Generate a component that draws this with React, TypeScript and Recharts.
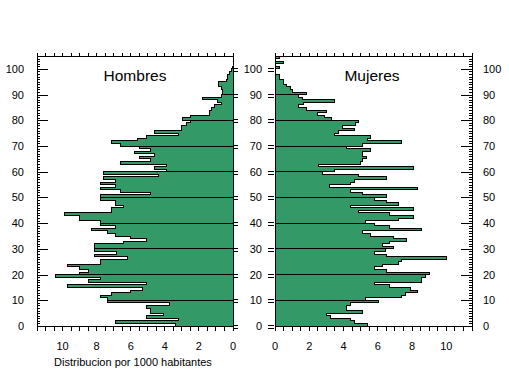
import React from 'react';
import { AreaChart, Area, XAxis, YAxis, ReferenceLine } from 'recharts';

// Distribution per 1000 inhabitants, by single year of age (0..104)
const hombres = [
  3.4, 6.9, 3.2, 5.05, 4.1, 4.85, 4.85, 5.05, 3.7, 7.35,
  7.35, 7.8, 7.1, 6.0, 5.3, 9.7, 5.05, 8.5, 7.8, 10.4,
  9.0, 8.5, 9.0, 9.7, 7.8, 7.8, 6.2, 8.1, 6.85, 8.1,
  8.1, 8.1, 6.4, 5.05, 6.0, 6.9, 7.35, 8.3, 6.9, 7.8,
  7.8, 9.0, 9.0, 9.9, 7.1, 7.1, 6.4, 6.9, 6.9, 7.8,
  7.8, 4.85, 6.6, 7.8, 6.9, 7.8, 6.9, 7.6, 4.4, 7.6,
  3.9, 4.6, 3.9, 6.6, 4.85, 5.5, 4.6, 5.8, 4.85, 5.5,
  6.6, 7.1, 5.6, 5.1, 3.2, 4.6, 3.0, 3.0, 2.7, 2.5,
  2.96, 2.5, 1.35, 1.35, 1.25, 1.1, 0.66, 0.9, 1.8, 0.66,
  0.6, 0.6, 0.66, 0.86, 0.86, 0.4, 0.3, 0.3, 0.2, 0.1,
  0.05, 0, 0, 0, 0,
];

const mujeres = [
  5.4, 4.65, 4.4, 3.25, 3.0, 5.1, 4.2, 4.2, 4.4, 6.05,
  5.3, 7.4, 7.6, 8.3, 7.9, 6.7, 5.8, 8.55, 8.55, 8.8,
  9.0, 6.5, 5.8, 6.3, 7.2, 7.4, 10.0, 6.5, 5.8, 6.45,
  6.9, 6.3, 6.7, 7.65, 6.9, 5.6, 5.1, 8.55, 6.7, 5.8,
  5.3, 7.2, 8.1, 6.7, 4.9, 8.1, 4.4, 7.2, 6.5, 5.8,
  6.5, 5.1, 4.4, 8.3, 3.2, 4.4, 4.65, 6.5, 4.9, 2.8,
  3.5, 8.1, 2.55, 5.0, 5.1, 5.35, 5.1, 5.1, 5.55, 4.2,
  5.1, 7.4, 5.4, 5.55, 3.5, 3.7, 4.65, 3.95, 4.7, 4.9,
  3.3, 2.9, 2.5, 3.0, 1.85, 1.37, 1.65, 3.5, 1.6, 1.37,
  1.85, 1.0, 0.9, 0.7, 0.5, 0.5, 0.25, 0.25, 0, 0,
  0.25, 0, 0.5, 0, 0.25,
];

const xTicks = [0, 0.5, 1, 1.5, 2, 2.5, 3, 3.5, 4, 4.5, 5, 5.5, 6, 6.5, 7, 7.5, 8, 8.5, 9, 9.5, 10, 10.5, 11, 11.5];
const xLabels = [0, 2, 4, 6, 8, 10];
const yMajor = [0, 10, 20, 30, 40, 50, 60, 70, 80, 90, 100];
const yAll = hombres.map((_, i) => i);
const decades = [10, 20, 30, 40, 50, 60, 70, 80, 90];

const titles = ['Hombres', 'Mujeres'];
const xTitle = 'Distribucion por 1000 habitantes';

const data = [
  ...yAll.map((age) => ({ age, h: hombres[age], m: mujeres[age] })),
  { age: 105, h: 0, m: 0 },
];

const GREEN = '#339966';
const FONT = '"Liberation Sans", Arial, Helvetica, sans-serif';
const X_DOMAIN: [number, number] = [0, 11.5];
const Y_DOMAIN: [number, number] = [0, 105];

const fmtX = (v: number) => (xLabels.includes(v) ? String(v) : '');
const r = (v: number) => Math.round(v) + 0.5;

const LeftOuterTick = (props: any) => {
  const { x, y, payload } = props;
  const v = payload.value;
  const major = v % 10 === 0;
  const yy = r(y);
  return (
    <g>
      <line x1={x} x2={x + (major ? 11 : 3)} y1={yy} y2={yy} stroke="#000" />
      {major && (
        <text x={x - 13} y={y} dy="0.36em" textAnchor="end" fontSize={11} fontFamily={FONT} fill="#000">
          {v}
        </text>
      )}
    </g>
  );
};

const RightOuterTick = (props: any) => {
  const { x, y, payload } = props;
  const v = payload.value;
  const major = v % 10 === 0;
  const yy = r(y);
  return (
    <g>
      <line x1={x - (major ? 11 : 3)} x2={x} y1={yy} y2={yy} stroke="#000" />
      {major && (
        <text x={x + 11} y={y} dy="0.36em" textAnchor="start" fontSize={11} fontFamily={FONT} fill="#000">
          {v}
        </text>
      )}
    </g>
  );
};

const LeftInnerTick = (props: any) => {
  const { x, y } = props;
  const yy = Math.round(y);
  return (
    <g>
      <line x1={x} x2={x + 5} y1={yy - 1 + 0.5} y2={yy - 1 + 0.5} stroke="#000" />
      <line x1={x} x2={x + 5} y1={yy + 2 + 0.5} y2={yy + 2 + 0.5} stroke="#000" />
    </g>
  );
};

const CenterTick = (props: any) => {
  const { x, y, payload } = props;
  const yy = Math.round(y);
  return (
    <g>
      <line x1={x - 7} x2={x - 1} y1={yy - 1 + 0.5} y2={yy - 1 + 0.5} stroke="#000" />
      <line x1={x - 7} x2={x - 1} y1={yy + 2 + 0.5} y2={yy + 2 + 0.5} stroke="#000" />
      <text x={x - 13} y={y} dy="0.36em" textAnchor="end" fontSize={11} fontFamily={FONT} fill="#000">
        {payload.value}
      </text>
    </g>
  );
};

const tickStyle = { fill: '#000', fontSize: 11, fontFamily: FONT };

function Panel({ side }: { side: 'h' | 'm' }) {
  const isLeft = side === 'h';
  const values = isLeft ? hombres : mujeres;
  return (
    <AreaChart
      width={isLeft ? 240 : 274}
      height={376}
      data={data}
      layout="vertical"
      margin={{ top: 46, right: 0, bottom: 20, left: 0 }}
    >
      <XAxis
        xAxisId="b"
        type="number"
        dataKey={side}
        orientation="bottom"
        domain={X_DOMAIN}
        allowDataOverflow
        reversed={isLeft}
        ticks={xTicks}
        interval={0}
        tickSize={5}
        tickMargin={11}
        height={30}
        tickFormatter={fmtX}
        stroke="#000"
        tick={tickStyle}
      />
      <XAxis
        xAxisId="t"
        type="number"
        dataKey={side}
        orientation="top"
        domain={X_DOMAIN}
        allowDataOverflow
        reversed={isLeft}
        ticks={xTicks}
        interval={0}
        tickSize={3}
        height={10}
        tickFormatter={() => ''}
        stroke="#000"
      />
      <YAxis
        yAxisId="l"
        type="number"
        dataKey="age"
        orientation="left"
        domain={Y_DOMAIN}
        allowDataOverflow
        reversed
        ticks={isLeft ? yAll : yMajor}
        interval={0}
        width={isLeft ? 37 : 40}
        tickSize={0}
        tickMargin={0}
        tickLine={false}
        stroke="#000"
        tick={isLeft ? <LeftOuterTick /> : <CenterTick />}
      />
      <YAxis
        yAxisId="r"
        type="number"
        dataKey="age"
        orientation="right"
        domain={Y_DOMAIN}
        allowDataOverflow
        reversed
        ticks={isLeft ? yMajor : yAll}
        interval={0}
        width={isLeft ? 7 : 37}
        tickSize={0}
        tickMargin={0}
        tickLine={false}
        stroke="#000"
        tick={isLeft ? <LeftInnerTick /> : <RightOuterTick />}
      />
      <Area
        xAxisId="b"
        yAxisId="l"
        dataKey={side}
        type="stepBefore"
        stroke="#000"
        strokeWidth={1}
        fill={GREEN}
        fillOpacity={1}
        dot={false}
        activeDot={false}
        isAnimationActive={false}
      />
      {decades.map((d) => (
        <ReferenceLine
          key={d}
          xAxisId="b"
          yAxisId="l"
          segment={[
            { x: 0, y: d },
            { x: Math.max(values[d - 1], values[d]), y: d },
          ]}
          stroke="#000"
          strokeWidth={1}
          ifOverflow="visible"
        />
      ))}
    </AreaChart>
  );
}

export default function App() {
  return (
    <div style={{ position: 'absolute', left: 0, top: 0, width: 509, height: 376, background: '#fff' }}>
      <style>{`svg line, svg path { shape-rendering: crispEdges; }`}</style>
      <div style={{ position: 'absolute', left: 0, top: 0 }}>
        <Panel side="h" />
      </div>
      <div style={{ position: 'absolute', left: 235, top: 0 }}>
        <Panel side="m" />
      </div>
      <svg
        width={509}
        height={376}
        style={{ position: 'absolute', left: 0, top: 0, pointerEvents: 'none' }}
      >
        <text x={135} y={81} textAnchor="middle" fontSize={15.5} fontFamily={FONT} fill="#000">
          {titles[0]}
        </text>
        <text x={372} y={81} textAnchor="middle" fontSize={15.5} fontFamily={FONT} fill="#000">
          {titles[1]}
        </text>
        <text x={133} y={366} textAnchor="middle" fontSize={11} fontFamily={FONT} fill="#000">
          {xTitle}
        </text>
      </svg>
    </div>
  );
}
